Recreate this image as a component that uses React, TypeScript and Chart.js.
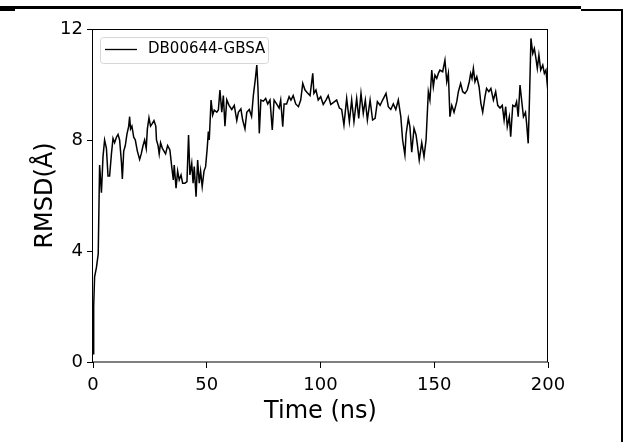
import { useEffect, useRef } from "react";
import { Chart, registerables } from "chart.js";

Chart.register(...registerables);

const seriesLabel = "DB00644-GBSA";
const xTickValues = [0, 50, 100, 150, 200];
const yTickValues = [0, 4, 8, 12];
const xTitle = "Time (ns)";
const yTitle = "RMSD(Å)";

const timeNs = [
  0, 0.3, 0.7, 1.5, 2.3, 2.9, 3.7, 4.4, 5.1, 5.9, 6.6, 7.3, 8.1, 8.8, 9.5, 10.3, 11.0, 11.7, 12.5, 12.9,
  13.5, 14.2, 14.9, 15.7, 16.1, 16.5, 17.1, 17.9, 18.6, 19.5, 20.5, 21.2, 22.0, 22.7, 23.4, 23.9, 24.6, 25.3, 26.1, 26.8,
  27.6, 27.9, 28.6, 29.1, 29.7, 30.5, 31.2, 31.9, 32.8, 33.8, 34.6, 35.3, 35.7, 36.5, 37.2, 37.9, 38.7, 39.4, 40.4, 41.3,
  42.0, 42.6, 43.4, 44.0, 44.5, 45.3, 46.0, 46.7, 47.3, 48.0, 48.8, 49.5, 50.2, 50.7, 51.1, 51.9, 52.6, 53.3, 54.4, 55.1,
  55.8, 56.6, 57.3, 58.0, 58.8, 59.8, 61.0, 62.1, 63.2, 63.9, 65.0, 65.8, 66.8, 67.6, 68.7, 69.7, 70.5, 71.3, 72.0, 72.5,
  73.1, 73.8, 74.9, 75.9, 76.8, 77.8, 78.8, 79.6, 80.7, 81.8, 82.5, 83.4, 84.0, 85.1, 86.2, 87.0, 88.0, 89.1, 90.3, 91.3,
  92.2, 93.2, 94.2, 95.4, 96.6, 97.1, 98.0, 99.0, 100.1, 101.2, 102.4, 103.4, 104.5, 105.6, 107.1, 108.3, 109.3, 110.3, 111.5, 112.7,
  113.7, 114.7, 115.9, 116.8, 117.8, 118.8, 119.7, 120.6, 121.8, 122.9, 124.0, 125.0, 126.2, 127.3, 128.8, 129.8, 130.9, 132.0, 133.1, 134.2,
  135.3, 136.1, 137.1, 137.6, 138.6, 139.3, 140.1, 141.1, 142.0, 142.6, 143.4, 144.5, 145.5, 146.4, 147.4, 148.1, 148.9, 149.6, 150.3, 151.1,
  151.8, 152.5, 153.7, 154.7, 155.5, 156.2, 156.9, 157.7, 158.7, 159.9, 160.6, 161.6, 162.5, 163.5, 164.5, 165.4, 166.0, 166.6, 167.2, 167.9,
  168.7, 169.7, 170.5, 171.3, 172.3, 173.0, 174.0, 174.9, 176.0, 177.0, 177.9, 178.9, 179.9, 180.7, 181.4, 182.1, 183.0, 183.6, 184.5, 185.5,
  186.2, 186.9, 187.7, 188.4, 189.2, 190.1, 190.6, 191.3, 191.8, 192.5, 193.3, 194.0, 194.7, 195.3, 196.0, 196.8, 197.7, 198.4, 199.1, 199.9,
];

const rmsd = [
  0.3, 2.0, 3.07, 3.4, 3.9, 7.1, 6.1, 7.4, 8.0, 7.7, 6.7, 6.7, 7.5, 8.06, 7.9, 8.1, 8.2, 8.0, 7.2, 6.6,
  7.6, 7.8, 8.2, 8.5, 8.84, 8.4, 8.5, 8.1, 8.0, 7.6, 7.3, 7.5, 7.8, 8.0, 7.7, 8.4, 8.8, 8.5, 8.6, 8.7,
  8.5, 8.0, 7.8, 7.5, 7.9, 7.7, 7.6, 7.5, 7.8, 7.64, 7.04, 6.56, 7.1, 6.26, 6.88, 6.56, 6.74, 6.44, 6.44, 6.5,
  8.18, 6.74, 7.16, 6.44, 7.04, 5.96, 7.28, 6.44, 6.88, 6.32, 6.88, 7.04, 7.7, 8.3, 8.0, 9.44, 8.9, 9.08, 9.0, 9.08,
  9.8, 9.0, 9.6, 8.5, 9.45, 9.25, 9.1, 9.25, 8.7, 9.0, 9.12, 8.72, 8.4, 9.0, 9.1, 8.85, 9.62, 10.16, 10.7, 9.9,
  8.24, 9.44, 9.4, 9.5, 9.3, 9.44, 8.36, 9.44, 9.3, 9.15, 9.44, 8.48, 9.3, 9.3, 9.56, 9.44, 9.6, 9.3, 9.2, 9.44,
  10.04, 9.8, 9.7, 9.6, 10.4, 9.68, 9.8, 9.44, 9.56, 9.28, 9.44, 9.6, 9.28, 9.35, 9.44, 9.15, 9.1, 8.54, 9.5, 8.66,
  9.44, 8.66, 9.5, 8.78, 9.68, 8.96, 9.44, 8.72, 9.44, 8.72, 8.78, 9.38, 9.25, 9.44, 9.68, 9.2, 9.1, 9.3, 9.1, 9.44,
  8.84, 8.0, 7.46, 8.2, 8.78, 8.48, 7.56, 8.42, 8.18, 7.82, 7.28, 7.9, 7.4, 8.0, 9.74, 9.44, 10.52, 9.92, 10.34, 10.22,
  10.4, 10.52, 10.46, 10.88, 10.1, 10.4, 8.84, 9.25, 9.0, 9.38, 9.74, 10.04, 9.74, 9.68, 9.8, 10.1, 10.4, 10.22, 10.58, 10.1,
  10.28, 9.92, 9.32, 9.0, 9.56, 9.86, 9.74, 9.86, 9.44, 9.74, 9.25, 9.15, 9.25, 8.72, 9.2, 8.48, 8.84, 8.12, 9.25, 9.2,
  9.38, 8.84, 9.98, 9.44, 8.84, 9.0, 8.6, 7.88, 9.3, 11.66, 11.12, 11.3, 10.94, 10.58, 11.06, 10.52, 10.7, 10.4, 10.52, 9.8,
];

const FONT = '"DejaVu Sans", "Liberation Sans", sans-serif';

const decorPlugin = {
  id: "decor",
  afterDraw(chart: any) {
    const { ctx, chartArea: a } = chart;
    ctx.save();
    // axes frame
    ctx.strokeStyle = "#000";
    ctx.lineWidth = 1;
    ctx.strokeRect(a.left - 0.5, a.top + 0.5, a.right - a.left, a.bottom - a.top - 0.5);

    // legend
    const bx = a.left + 7.5;
    const by = a.top + 8.5;
    const bw = 168;
    const bh = 26;
    ctx.beginPath();
    ctx.roundRect(bx, by, bw, bh, 3);
    ctx.fillStyle = "rgba(255,255,255,0.8)";
    ctx.fill();
    ctx.strokeStyle = "#d6d6d6";
    ctx.lineWidth = 1;
    ctx.stroke();
    const ds = chart.data.datasets[0];
    ctx.beginPath();
    ctx.strokeStyle = ds.borderColor;
    ctx.lineWidth = 1.3;
    ctx.moveTo(a.left + 12, a.top + 20.5);
    ctx.lineTo(a.left + 44, a.top + 20.5);
    ctx.stroke();
    ctx.fillStyle = "#000";
    ctx.font = `15px ${FONT}`;
    ctx.textBaseline = "middle";
    ctx.textAlign = "left";
    ctx.fillText(ds.label, a.left + 55, a.top + 20.5);

    // outer page frame lines
    ctx.fillStyle = "#000";
    ctx.fillRect(0, 6, 581, 3);
    ctx.fillRect(581, 9, 42, 2);
    ctx.fillRect(0, 9, 15, 2);
    ctx.fillRect(621, 9, 2, 433);
    ctx.restore();
  },
};

export default function App() {
  const ref = useRef<HTMLCanvasElement | null>(null);
  useEffect(() => {
    if (!ref.current) return;
    const points = timeNs.map((t, i) => ({ x: t, y: rmsd[i] }));
    const chart = new Chart(ref.current, {
      type: "line",
      data: {
        datasets: [
          {
            label: seriesLabel,
            data: points,
            borderColor: "#000000",
            backgroundColor: "#000000",
            borderWidth: 1.5,
            pointRadius: 0,
            tension: 0,
            fill: false,
          },
        ],
      },
      options: {
        animation: false,
        responsive: false,
        devicePixelRatio: 1,
        layout: { padding: { left: 0, top: 29, right: 76, bottom: 0 } },
        plugins: { legend: { display: false }, tooltip: { enabled: false } },
        scales: {
          x: {
            type: "linear",
            min: 0,
            max: 200,
            afterBuildTicks: (s: any) => {
              s.ticks = xTickValues.map((v) => ({ value: v }));
            },
            afterFit: (s: any) => {
              s.height = 80;
            },
            grid: {
              drawOnChartArea: false,
              drawTicks: true,
              tickLength: 6,
              tickColor: "#000",
              color: "#000",
            },
            border: { display: false },
            ticks: {
              color: "#000",
              font: { family: FONT, size: 18 },
              padding: 7,
              maxRotation: 0,
            },
            title: {
              display: true,
              text: xTitle,
              color: "#000",
              font: { family: FONT, size: 24 },
              padding: { top: 0, bottom: 16 },
            },
          },
          y: {
            type: "linear",
            min: 0,
            max: 12,
            afterBuildTicks: (s: any) => {
              s.ticks = yTickValues.map((v) => ({ value: v }));
            },
            afterFit: (s: any) => {
              s.width = 93;
            },
            grid: {
              drawOnChartArea: false,
              drawTicks: true,
              tickLength: 6,
              tickColor: "#000",
              color: "#000",
            },
            border: { display: false },
            ticks: {
              color: "#000",
              font: { family: FONT, size: 18 },
              padding: 4,
            },
            title: {
              display: true,
              text: yTitle,
              color: "#000",
              font: { family: FONT, size: 24 },
              padding: { top: 31, bottom: 0 },
            },
          },
        },
      },
      plugins: [decorPlugin],
    });
    return () => chart.destroy();
  }, []);

  return (
    <div style={{ position: "absolute", left: 0, top: 0, width: 624, height: 442, background: "#fff" }}>
      <canvas ref={ref} width={624} height={442} style={{ display: "block" }} />
    </div>
  );
}
